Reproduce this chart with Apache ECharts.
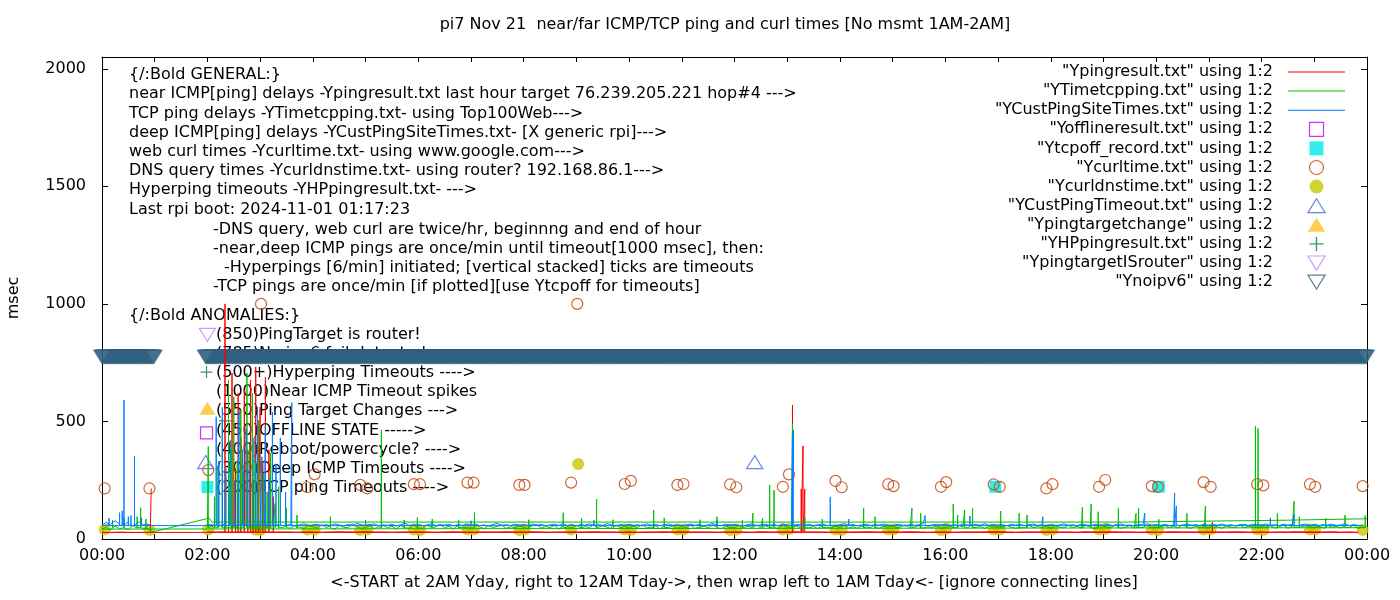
<!DOCTYPE html>
<html>
<head>
<meta charset="utf-8">
<title>pi7 Nov 21 near/far ICMP/TCP ping and curl times</title>
<script src="https://cdn.jsdelivr.net/npm/echarts@6/dist/echarts.min.js"></script>
<style>
  html, body { margin: 0; padding: 0; background: #fff; }
  #chart { width: 1400px; height: 600px; }
</style>
</head>
<body>
<div id="chart"></div>
<script>
// x = minutes after midnight, y = msec
// files start at 02:00 "Yday", run right to 24:00, then wrap left to 00:00..01:00

var xLabelMinutes = [0, 120, 240, 360, 480, 600, 720, 840, 960, 1080, 1200, 1320, 1440];
var xLabels = ['00:00', '02:00', '04:00', '06:00', '08:00', '10:00', '12:00', '14:00', '16:00', '18:00', '20:00', '22:00', '00:00'];
var xTickMinutes = [0, 60, 120, 180, 240, 300, 360, 420, 480, 540, 600, 660, 720, 780, 840, 900, 960, 1020, 1080, 1140, 1200, 1260, 1320, 1380, 1440];
var yTicks = [0, 500, 1000, 1500, 2000];

// near ICMP (Ypingresult.txt): 10 min samples 02:00..23:50, then 00:00..00:50
var redDay = [
  30, 30, 31, 30, 29, 30,  30, 31, 30, 30, 29, 30,  30, 29, 30, 31, 30, 30,  31, 30, 30, 29, 30, 30,
  30, 30, 29, 30, 31, 30,  29, 30, 30, 30, 31, 30,  30, 31, 30, 29, 30, 30,  30, 30, 31, 30, 30, 29,
  30, 29, 30, 30, 31, 30,  31, 30, 30, 30, 29, 30,  30, 30, 29, 31, 30, 30,  30, 31, 30, 30, 30, 29,
  29, 30, 30, 31, 30, 30,  30, 30, 31, 30, 29, 30,  30, 29, 30, 30, 30, 31,  31, 30, 29, 30, 30, 30,
  30, 30, 30, 29, 31, 30,  30, 31, 30, 30, 29, 30,  29, 30, 31, 30, 30, 30,  30, 30, 30, 31, 30, 29,
  30, 29, 30, 30, 31, 30,  30, 30, 31, 29, 30, 28
];
var redNight = [28, 28, 29, 28, 28, 28];
var redSpikes = [
  [140, 1000], [144, 476], [148, 706], [152, 300], [155, 620], [158, 434], [162, 634], [166, 380],
  [169, 676], [172, 250], [175, 732], [178, 420], [180, 561], [183, 330], [186, 689], [190, 378],
  [195, 180], [786, 570], [796, 213], [798, 396], [800, 213], [1264, 70]
];
var redTail = [[55, 28], [56, 215]];
var redFloor = 30;

// TCP ping (YTimetcpping.txt): 5 min samples
var greenDay = [
  48, 55, 42, 60, 46, 52, 58, 44, 50, 62, 47, 53,
  45, 58, 50, 43, 61, 48, 54, 46, 59, 51, 44, 57,
  52, 46, 63, 49, 55, 41, 58, 50, 47, 64, 53, 45,
  49, 57, 44, 52, 60, 47, 55, 42, 58, 50, 46, 61,
  54, 45, 59, 48, 52, 63, 46, 55, 43, 57, 50, 48,
  47, 62, 51, 44, 58, 49, 53, 60, 45, 52, 48, 56,
  50, 44, 57, 61, 46, 53, 48, 59, 42, 55, 51, 47,
  58, 46, 52, 49, 63, 45, 56, 50, 44, 60, 48, 53,
  46, 55, 49, 62, 47, 51, 58, 43, 54, 49, 57, 45,
  53, 48, 60, 45, 51, 56, 47, 62, 50, 44, 55, 49,
  47, 58, 44, 53, 50, 61, 46, 57, 49, 52, 45, 59,
  51, 45, 56, 48, 62, 47, 53, 44, 58, 50, 47, 55,
  49, 60, 46, 52, 45, 57, 51, 48, 63, 46, 54, 50,
  56, 47, 53, 61, 44, 50, 58, 46, 52, 49, 55, 45,
  48, 54, 45, 59, 51, 47, 62, 49, 53, 44, 57, 50,
  52, 46, 58, 50, 45, 55, 48, 61, 47, 53, 49, 56,
  45, 57, 50, 47, 60, 48, 54, 46, 58, 51, 44, 59,
  55, 48, 52, 62, 46, 50, 57, 45, 53, 49, 60, 47,
  50, 45, 58, 49, 54, 47, 61, 52, 46, 55, 48, 53,
  47, 59, 51, 45, 56, 50, 48, 62, 47, 54, 51, 46,
  53, 49, 57, 46, 52, 60, 45, 55, 50, 48, 58, 51,
  48, 55, 46, 59, 50, 53, 47, 56, 49, 61, 45, 52
];
var greenNight = [42, 50, 38, 55, 44, 48, 40, 57, 46, 52, 43, 39];
var greenSpikes = [
  [121, 393], [128, 180], [132, 300], [137, 515], [141, 260], [144, 676], [147, 380], [150, 605],
  [154, 330], [158, 549], [161, 290], [165, 706], [168, 400], [171, 621], [175, 330], [178, 506],
  [184, 280], [188, 200], [192, 366], [197, 150], [201, 222], [210, 130], [222, 102],
  [260, 95], [318, 464], [344, 81], [359, 91], [376, 85], [406, 80], [424, 112], [486, 82],
  [525, 112], [546, 88], [563, 170], [582, 82], [628, 123], [640, 90], [681, 82], [700, 95],
  [729, 80], [741, 110], [752, 88], [760, 230], [765, 208], [786, 489], [800, 90], [820, 85],
  [867, 132], [880, 95], [922, 132], [932, 109], [969, 149], [974, 102], [982, 123], [991, 130],
  [1023, 119], [1044, 109], [1053, 102], [1116, 135], [1126, 149], [1134, 116], [1157, 130],
  [1177, 109], [1180, 130], [1203, 84], [1235, 109], [1256, 140], [1313, 480], [1316, 470],
  [1338, 109], [1357, 161], [1363, 95], [1393, 88], [1415, 102], [1438, 100],
  [12, 80], [25, 90], [40, 95], [44, 133], [50, 85]
];
var greenTail = [[58, 30], [122, 89], [125, 72], [1168, 72], [1168, 80], [1348, 80], [1348, 85], [1440, 86]];
var greenFloor = 48;

// deep ICMP (YCustPingSiteTimes.txt): 5 min samples
var blueDay = [
  58, 62, 55, 60, 66, 57, 61, 54, 63, 59, 56, 64,
  60, 57, 63, 55, 61, 66, 58, 62, 56, 60, 65, 57,
  59, 63, 56, 61, 57, 64, 60, 55, 62, 58, 66, 61,
  57, 61, 64, 56, 60, 58, 63, 55, 61, 67, 58, 60,
  62, 56, 60, 65, 57, 61, 59, 63, 56, 62, 58, 64,
  58, 63, 57, 60, 55, 62, 66, 58, 61, 57, 63, 59,
  61, 57, 64, 59, 62, 56, 60, 63, 58, 65, 57, 61,
  56, 62, 59, 64, 57, 61, 58, 66, 60, 55, 62, 58,
  63, 58, 61, 56, 65, 59, 62, 57, 60, 64, 58, 61,
  57, 60, 63, 58, 62, 55, 61, 66, 59, 57, 63, 60,
  62, 58, 56, 61, 64, 57, 60, 63, 58, 62, 56, 65,
  59, 57, 62, 60, 58, 63, 57, 61, 64, 58, 60, 56,
  61, 65, 58, 62, 56, 60, 63, 57, 61, 59, 64, 58,
  57, 62, 60, 55, 63, 58, 61, 66, 57, 60, 62, 59,
  63, 58, 61, 57, 64, 60, 56, 62, 59, 65, 58, 61,
  58, 61, 56, 63, 59, 62, 57, 60, 64, 58, 61, 57,
  62, 57, 60, 65, 58, 61, 56, 63, 60, 57, 62, 59,
  59, 63, 57, 61, 64, 58, 60, 56, 62, 59, 65, 58,
  61, 58, 63, 57, 60, 62, 58, 64, 59, 61, 57, 63,
  57, 62, 59, 64, 58, 61, 56, 60, 63, 58, 62, 60,
  60, 64, 58, 61, 57, 63, 59, 62, 56, 60, 64, 58,
  62, 57, 61, 59, 63, 58, 60, 65, 57, 61, 58, 57
];
var blueNight = [57, 72, 60, 78, 64, 70, 74, 62, 68, 76, 64, 60];
var blueSpikes = [
  [130, 520], [133, 330], [137, 560], [141, 300], [146, 420], [151, 250], [156, 540], [160, 380],
  [164, 470], [168, 300], [173, 430], [177, 560], [182, 350], [186, 480], [190, 260], [194, 540],
  [198, 320], [203, 430], [209, 200], [216, 580],
  [300, 80], [420, 78], [560, 80], [700, 82], [786, 440], [787, 464], [829, 179], [850, 85],
  [937, 100], [988, 98], [1071, 95], [1187, 110], [1221, 195], [1223, 140], [1330, 90], [1357, 105],
  [8, 89], [20, 112], [23, 120], [25, 591], [30, 95], [33, 100], [37, 353], [45, 90]
];
var blueTail = [];
var blueFloor = 58;

// scatter files [minute, msec]
var offlinePts = [[119, 451]];
var tcpoffPts = [[120, 221], [1017, 222], [1203, 222]];
var curlPts = [
  [3, 215], [54, 215], [121, 293], [175, 220], [181, 1000], [234, 220], [242, 275], [294, 230],
  [302, 215], [355, 233], [362, 233], [416, 240], [423, 240], [475, 230], [481, 230], [534, 240],
  [541, 1000], [595, 234], [602, 247], [655, 230], [662, 234], [715, 232], [722, 220], [775, 222],
  [782, 275], [835, 247], [842, 220], [895, 233], [901, 225], [955, 222], [961, 242], [1015, 232],
  [1022, 222], [1075, 215], [1082, 233], [1135, 222], [1142, 251], [1195, 225], [1202, 222],
  [1254, 242], [1262, 222], [1315, 233], [1322, 228], [1375, 233], [1381, 222], [1435, 225]
];
var dnsPts = [
  [3, 40], [54, 38], [121, 40], [175, 40], [180, 38], [234, 40], [242, 40], [294, 38], [302, 40],
  [355, 40], [362, 38], [416, 40], [423, 40], [475, 38], [481, 40], [534, 40], [542, 319],
  [595, 40], [602, 38], [655, 40], [662, 40], [715, 38], [722, 40], [775, 40], [782, 42],
  [835, 40], [842, 38], [895, 40], [901, 40], [955, 38], [961, 44], [1015, 40], [1022, 40],
  [1075, 38], [1082, 40], [1135, 40], [1142, 44], [1195, 40], [1202, 38], [1254, 40], [1262, 40],
  [1315, 40], [1322, 38], [1375, 40], [1381, 40], [1435, 38]
];
var custTimeoutPts = [[118, 327], [743, 327]];
var targetChangePts = [[120, 556]];
var hpPingPts = [[119, 710], [140, 502]];
var targetRouterPts = [[120, 868]];
var noipv6Runs = [[0, 59], [118, 1439]]; // logged once per minute
var noipv6Level = 775;

var titleText = 'pi7 Nov 21  near/far ICMP/TCP ping and curl times [No msmt 1AM-2AM]';
var xTitle = '<-START at 2AM Yday, right to 12AM Tday->, then wrap left to 1AM Tday<- [ignore connecting lines]';
var yTitle = 'msec';
var generalNotes = [
  '{/:Bold GENERAL:}',
  'near ICMP[ping] delays -Ypingresult.txt last hour target 76.239.205.221 hop#4 --->',
  'TCP ping delays -YTimetcpping.txt- using Top100Web--->',
  'deep ICMP[ping] delays -YCustPingSiteTimes.txt- [X generic rpi]--->',
  'web curl times -Ycurltime.txt- using www.google.com--->',
  'DNS query times -Ycurldnstime.txt- using router? 192.168.86.1--->',
  'Hyperping timeouts -YHPpingresult.txt- --->',
  'Last rpi boot: 2024-11-01 01:17:23'
];
var scheduleNotes = [
  '-DNS query, web curl are twice/hr, beginnng and end of hour',
  '-near,deep ICMP pings are once/min until timeout[1000 msec], then:',
  '-Hyperpings [6/min] initiated; [vertical stacked] ticks are timeouts',
  '-TCP pings are once/min [if plotted][use Ytcpoff for timeouts]'
];
var anomalyHeader = '{/:Bold ANOMALIES:}';
var anomalyNotes = [
  '(850)PingTarget is router!',
  '(785)No ipv6 fail detected',
  '(500+)Hyperping Timeouts ---->',
  '(1000)Near ICMP Timeout spikes',
  '(550)Ping Target Changes --->',
  '(450)OFFLINE STATE ----->',
  '(400)Reboot/powercycle? ---->',
  '(300)Deep ICMP Timeouts ---->',
  '(200)TCP ping Timeouts ---->'
];

var FONT = '"DejaVu Sans", sans-serif';
var FS = 16;

// base samples in file order, spikes go straight up from the floor and back down
function buildTrace(dayVals, nightVals, step, spikes, floor, tail) {
  function part(start, vals, lo, hi) {
    var pts = vals.map(function (v, i) { return { m: start + i * step, v: v }; });
    spikes.forEach(function (s) {
      if (s[0] >= lo && s[0] < hi) pts.push({ m: s[0], peak: s[1] });
    });
    pts.sort(function (a, b) { return a.m - b.m; });
    var out = [];
    pts.forEach(function (p) {
      if (p.peak === undefined) out.push([p.m, p.v]);
      else out.push([p.m, floor], [p.m, p.peak], [p.m, floor]);
    });
    return out;
  }
  return part(120, dayVals, 120, 1441).concat(part(0, nightVals, 0, 120), tail);
}

function expandRuns(runs, level) {
  var out = [];
  runs.forEach(function (r) {
    for (var m = r[0]; m <= r[1]; m++) out.push([m, level]);
  });
  return out;
}

var rectPath = 'path://M0,0 H10 V10 H0 Z';
var upTri = 'path://M8,0 L16,13 L0,13 Z';
var downTri = 'path://M0,0 L16,0 L8,13 Z';
var plusPath = 'path://M5.4,0 H6.6 V5.4 H12 V6.6 H6.6 V12 H5.4 V6.6 H0 V5.4 H5.4 Z';
var lineIcon = 'path://M0,0 H57 V1 H0 Z';

function lineSeries(name, color, data) {
  return {
    name: name, type: 'line', data: data, color: color,
    symbol: 'none', showSymbol: false, sampling: false,
    lineStyle: { color: color, width: 1 },
    emphasis: { disabled: true }, silent: true, animation: false
  };
}

function pointSeries(name, color, symbol, size, hollow, data) {
  var style = hollow
    ? { color: 'rgba(0,0,0,0)', borderColor: color, borderWidth: 1.2 }
    : { color: color };
  return {
    name: name, type: 'scatter', data: data, color: color,
    symbol: symbol, symbolSize: size, itemStyle: style,
    emphasis: { disabled: true }, silent: true, animation: false, large: false
  };
}

function note(x, y, text, align) {
  return {
    type: 'text', x: x, y: y, silent: true, z: 0,
    style: { text: text, font: FS + 'px ' + FONT, fill: '#000', align: align || 'left', verticalAlign: 'middle' }
  };
}

var notes = [];
var generalY = [75, 94.3, 113.5, 132.7, 151.9, 171, 190.2, 209.4];
generalNotes.forEach(function (t, i) { notes.push(note(129, generalY[i], t)); });
var scheduleY = [229.5, 248.7, 267.9, 287];
var scheduleX = [213, 213, 224, 213];
scheduleNotes.forEach(function (t, i) { notes.push(note(scheduleX[i], scheduleY[i], t)); });
notes.push(note(129, 315.5, anomalyHeader));
anomalyNotes.forEach(function (t, i) { notes.push(note(216, 334.5 + i * 19.2, t)); });
notes.push(note(725, 25, titleText, 'center'));
notes.push(note(734, 583, xTitle, 'center'));
var yTitleNote = note(14, 298, yTitle, 'center');
yTitleNote.rotation = Math.PI / 2;
notes.push(yTitleNote);

var series = [
  lineSeries('"Ypingresult.txt" using 1:2', '#ff0000', buildTrace(redDay, redNight, 10, redSpikes, redFloor, redTail)),
  lineSeries('"YTimetcpping.txt" using 1:2', '#00c000', buildTrace(greenDay, greenNight, 5, greenSpikes, greenFloor, greenTail)),
  lineSeries('"YCustPingSiteTimes.txt" using 1:2', '#0080ff', buildTrace(blueDay, blueNight, 5, blueSpikes, blueFloor, blueTail)),
  pointSeries('"Yofflineresult.txt" using 1:2', '#c000ff', rectPath, 12, true, offlinePts),
  pointSeries('"Ytcpoff_record.txt" using 1:2', '#00e8e8', rectPath, 12, false, tcpoffPts),
  pointSeries('"Ycurltime.txt" using 1:2', '#c04000', 'circle', 11, true, curlPts),
  pointSeries('"Ycurldnstime.txt" using 1:2', '#c8c800', 'circle', 12, false, dnsPts),
  pointSeries('"YCustPingTimeout.txt" using 1:2', '#4169e1', upTri, [16, 13], true, custTimeoutPts),
  pointSeries('"Ypingtargetchange" using 1:2', '#ffc020', upTri, [16, 13], false, targetChangePts),
  pointSeries('"YHPpingresult.txt" using 1:2', '#008040', plusPath, 12, false, hpPingPts),
  pointSeries('"YpingtargetISrouter" using 1:2', '#c080ff', downTri, [16, 13], true, targetRouterPts),
  pointSeries('"Ynoipv6" using 1:2', '#306080', downTri, [16, 13], true, expandRuns(noipv6Runs, noipv6Level))
];

var legendData = series.map(function (s) {
  if (s.type === 'line') return { name: s.name, icon: lineIcon, itemStyle: { borderWidth: 0 } };
  return { name: s.name };
});

var axisLineStyle = { show: true, onZero: false, lineStyle: { color: '#000', width: 1 } };
var labelStyle = { color: '#000', fontFamily: FONT, fontSize: FS };

var chart = echarts.init(document.getElementById('chart'), null, { renderer: 'canvas' });
chart.setOption({
  animation: false,
  backgroundColor: '#fff',
  grid: { left: 102, right: 33, top: 57, bottom: 61, containLabel: false },
  graphic: notes,
  legend: {
    data: legendData,
    orient: 'vertical', right: 55, top: 64, align: 'right', padding: 0,
    itemWidth: 57, itemHeight: 14, itemGap: 3.1, selectedMode: false,
    symbolKeepAspect: true,
    textStyle: { color: '#000', fontFamily: FONT, fontSize: FS, padding: [0, 10, 0, 0] },
    itemStyle: { borderWidth: 1.2 },
    lineStyle: { width: 1 }
  },
  xAxis: [{
    type: 'value', min: 0, max: 1440, position: 'bottom',
    axisLine: axisLineStyle,
    axisTick: { show: true, inside: true, length: 5, customValues: xTickMinutes, lineStyle: { color: '#000' } },
    axisLabel: Object.assign({
      customValues: xLabelMinutes, margin: 9,
      formatter: function (v) { var i = xLabelMinutes.indexOf(v); return i >= 0 ? xLabels[i] : ''; }
    }, labelStyle),
    splitLine: { show: false }
  }, {
    type: 'value', min: 0, max: 1440, position: 'top',
    axisLine: axisLineStyle,
    axisTick: { show: true, inside: true, length: 5, customValues: xTickMinutes, lineStyle: { color: '#000' } },
    axisLabel: { show: false },
    splitLine: { show: false }
  }],
  yAxis: [{
    type: 'value', min: 0, max: 2050, position: 'left',
    axisLine: axisLineStyle,
    axisTick: { show: true, inside: true, length: 6, customValues: yTicks, lineStyle: { color: '#000' } },
    axisLabel: Object.assign({
      customValues: yTicks, margin: 16,
      formatter: function (v) { return String(v); }
    }, labelStyle),
    splitLine: { show: false }
  }, {
    type: 'value', min: 0, max: 2050, position: 'right',
    axisLine: axisLineStyle,
    axisTick: { show: true, inside: true, length: 6, customValues: yTicks, lineStyle: { color: '#000' } },
    axisLabel: { show: false },
    splitLine: { show: false }
  }],
  series: series
});
</script>
</body>
</html>
